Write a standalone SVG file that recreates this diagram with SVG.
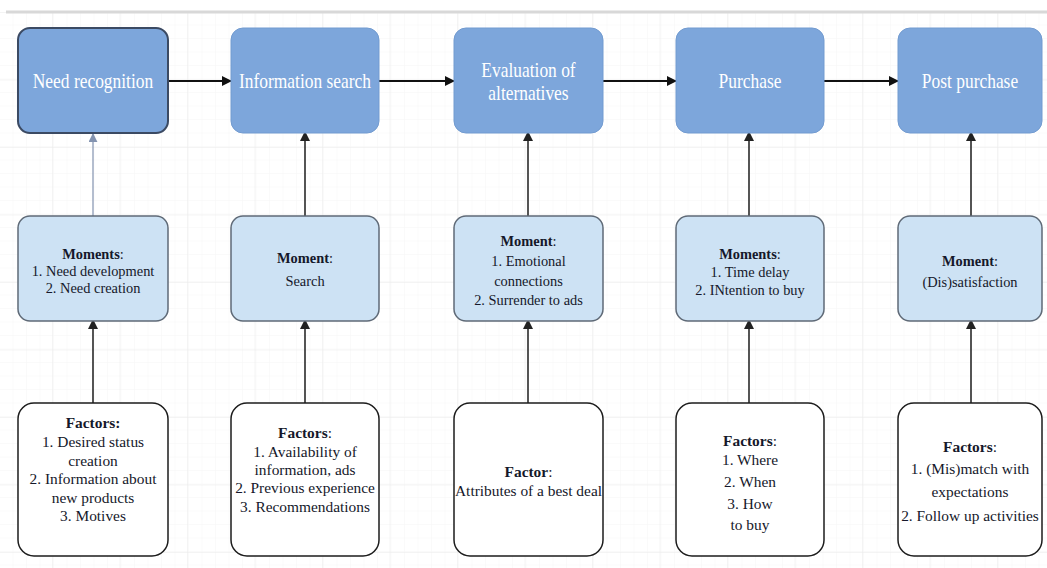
<svg xmlns="http://www.w3.org/2000/svg" width="1047" height="568" viewBox="0 0 1047 568">
<defs>
<pattern id="minor" x="0" y="12" width="13.5" height="13.5" patternUnits="userSpaceOnUse">
<path d="M13.5 0V13.5M0 13.5H13.5" fill="none" stroke="#f6f6f6" stroke-width="1"/>
</pattern>
<pattern id="major" x="52" y="12" width="67.5" height="67.5" patternUnits="userSpaceOnUse">
<path d="M0 0V67.5M0 0H67.5" fill="none" stroke="#eaeaea" stroke-width="1"/>
</pattern>
<marker id="ah" viewBox="0 0 10 10" refX="9" refY="5" markerWidth="10" markerHeight="10" markerUnits="userSpaceOnUse" orient="auto">
<path d="M0 0L10 5L0 10Z" fill="#111"/>
</marker>
<marker id="ahg" viewBox="0 0 10 10" refX="9" refY="5" markerWidth="10" markerHeight="10" markerUnits="userSpaceOnUse" orient="auto">
<path d="M0 0L10 5L0 10Z" fill="#222"/>
</marker>
<marker id="ahb" viewBox="0 0 10 10" refX="9" refY="5" markerWidth="9" markerHeight="9" markerUnits="userSpaceOnUse" orient="auto">
<path d="M0 0L10 5L0 10Z" fill="#8393b0"/>
</marker>
</defs>
<style>
text{font-family:"Liberation Serif","Times New Roman",serif;text-anchor:middle;}
.stage{fill:#7da6db;stroke:#729bd0;stroke-width:1;}
.stage-t{fill:#ffffff;font-size:20.5px;}
.moment{fill:#cde2f4;stroke:#5f6a77;stroke-width:1.5;}
.moment-t{fill:#15182a;font-size:14.4px;}
.factor{fill:#ffffff;stroke:#1c1c1c;stroke-width:1.5;}
.factor-t{fill:#15182a;font-size:15.4px;}
.b{font-weight:bold;}
.h{stroke:#111;stroke-width:2;fill:none;}
.v{stroke:#2a2a2a;stroke-width:1.6;fill:none;}
</style>
<rect width="1047" height="568" fill="#ffffff"/>
<rect x="0" y="12" width="1047" height="556" fill="url(#minor)"/>
<rect x="0" y="12" width="1047" height="556" fill="url(#major)"/>
<line x1="6" y1="12" x2="1047" y2="12" stroke="#d8d8d8" stroke-width="3"/>

<g id="connectors">
<line class="h" x1="168" y1="81" x2="231" y2="81" marker-end="url(#ah)"/>
<line class="h" x1="379" y1="81" x2="454" y2="81" marker-end="url(#ah)"/>
<line class="h" x1="603" y1="81" x2="676" y2="81" marker-end="url(#ah)"/>
<line class="h" x1="824" y1="81" x2="898" y2="81" marker-end="url(#ah)"/>
<line x1="93" y1="216" x2="93" y2="134" stroke="#8393b0" stroke-width="1.2" marker-end="url(#ahb)"/>
<line class="v" x1="305" y1="216" x2="305" y2="132" marker-end="url(#ahg)"/>
<line class="v" x1="528" y1="216" x2="528" y2="132" marker-end="url(#ahg)"/>
<line class="v" x1="749" y1="216" x2="749" y2="132" marker-end="url(#ahg)"/>
<line class="v" x1="971" y1="216" x2="971" y2="132" marker-end="url(#ahg)"/>
<line class="v" x1="93" y1="403" x2="93" y2="320" marker-end="url(#ahg)"/>
<line class="v" x1="305" y1="403" x2="305" y2="320" marker-end="url(#ahg)"/>
<line class="v" x1="528" y1="403" x2="528" y2="320" marker-end="url(#ahg)"/>
<line class="v" x1="749" y1="403" x2="749" y2="320" marker-end="url(#ahg)"/>
<line class="v" x1="971" y1="403" x2="971" y2="320" marker-end="url(#ahg)"/>
</g>

<g id="need-recognition">
<rect class="stage" x="18" y="28" width="150" height="105" rx="12" style="stroke:#3b4a63;stroke-width:2"/>
<g transform="translate(93 0) scale(0.85 1)"><text class="stage-t" x="0" y="88">Need recognition</text></g>
</g>
<g id="information-search">
<rect class="stage" x="231" y="28" width="148" height="105" rx="12"/>
<g transform="translate(305 0) scale(0.85 1)"><text class="stage-t" x="0" y="88">Information search</text></g>
</g>
<g id="evaluation-of-alternatives">
<rect class="stage" x="454" y="28" width="149" height="105" rx="12"/>
<g transform="translate(528.5 0) scale(0.85 1)"><text class="stage-t" x="0" y="77">Evaluation of</text><text class="stage-t" x="0" y="100">alternatives</text></g>
</g>
<g id="purchase">
<rect class="stage" x="676" y="28" width="148" height="105" rx="12"/>
<g transform="translate(750 0) scale(0.85 1)"><text class="stage-t" x="0" y="88">Purchase</text></g>
</g>
<g id="post-purchase">
<rect class="stage" x="898" y="28" width="144" height="105" rx="12"/>
<g transform="translate(970 0) scale(0.85 1)"><text class="stage-t" x="0" y="88">Post purchase</text></g>
</g>

<g id="moments-need">
<rect class="moment" x="18" y="216" width="150" height="105" rx="12"/>
<text class="moment-t" x="93" y="259"><tspan class="b">Moments</tspan>:</text>
<text class="moment-t" x="93" y="276">1. Need development</text>
<text class="moment-t" x="93" y="293">2. Need creation</text>
</g>
<g id="moment-search">
<rect class="moment" x="231" y="216" width="148" height="105" rx="12"/>
<text class="moment-t" x="305" y="263"><tspan class="b">Moment</tspan>:</text>
<text class="moment-t" x="305" y="286">Search</text>
</g>
<g id="moment-evaluation">
<rect class="moment" x="454" y="216" width="149" height="105" rx="12"/>
<text class="moment-t" x="528.5" y="246"><tspan class="b">Moment</tspan>:</text>
<text class="moment-t" x="528.5" y="266">1. Emotional</text>
<text class="moment-t" x="528.5" y="286">connections</text>
<text class="moment-t" x="528.5" y="305">2. Surrender to ads</text>
</g>
<g id="moments-purchase">
<rect class="moment" x="676" y="216" width="148" height="105" rx="12"/>
<text class="moment-t" x="750" y="259"><tspan class="b">Moments</tspan>:</text>
<text class="moment-t" x="750" y="277">1. Time delay</text>
<text class="moment-t" x="750" y="295">2. INtention to buy</text>
</g>
<g id="moment-post">
<rect class="moment" x="898" y="216" width="144" height="105" rx="12"/>
<text class="moment-t" x="970" y="266"><tspan class="b">Moment</tspan>:</text>
<text class="moment-t" x="970" y="287">(Dis)satisfaction</text>
</g>

<g id="factors-need">
<rect class="factor" x="18" y="403" width="150" height="153" rx="16"/>
<text class="factor-t b" x="93" y="428">Factors:</text>
<text class="factor-t" x="93" y="447">1. Desired status</text>
<text class="factor-t" x="93" y="465.5">creation</text>
<text class="factor-t" x="93" y="484">2. Information about</text>
<text class="factor-t" x="93" y="502.5">new products</text>
<text class="factor-t" x="93" y="521">3. Motives</text>
</g>
<g id="factors-search">
<rect class="factor" x="231" y="403" width="148" height="153" rx="16"/>
<text class="factor-t" x="305" y="438"><tspan class="b">Factors</tspan>:</text>
<text class="factor-t" x="305" y="456.5">1. Availability of</text>
<text class="factor-t" x="305" y="475">information, ads</text>
<text class="factor-t" x="305" y="493">2. Previous experience</text>
<text class="factor-t" x="305" y="511.5">3. Recommendations</text>
</g>
<g id="factor-evaluation">
<rect class="factor" x="454" y="403" width="149" height="153" rx="16"/>
<text class="factor-t" x="528.5" y="477"><tspan class="b">Factor</tspan>:</text>
<text class="factor-t" x="528.5" y="496">Attributes of a best deal</text>
</g>
<g id="factors-purchase">
<rect class="factor" x="676" y="403" width="148" height="153" rx="16"/>
<text class="factor-t" x="750" y="446"><tspan class="b">Factors</tspan>:</text>
<text class="factor-t" x="750" y="465">1. Where</text>
<text class="factor-t" x="750" y="487">2. When</text>
<text class="factor-t" x="750" y="509">3. How</text>
<text class="factor-t" x="750" y="530">to buy</text>
</g>
<g id="factors-post">
<rect class="factor" x="898" y="403" width="144" height="153" rx="16"/>
<text class="factor-t" x="970" y="452"><tspan class="b">Factors</tspan>:</text>
<text class="factor-t" x="970" y="474">1. (Mis)match with</text>
<text class="factor-t" x="970" y="497">expectations</text>
<text class="factor-t" x="970" y="521">2. Follow up activities</text>
</g>
</svg>
